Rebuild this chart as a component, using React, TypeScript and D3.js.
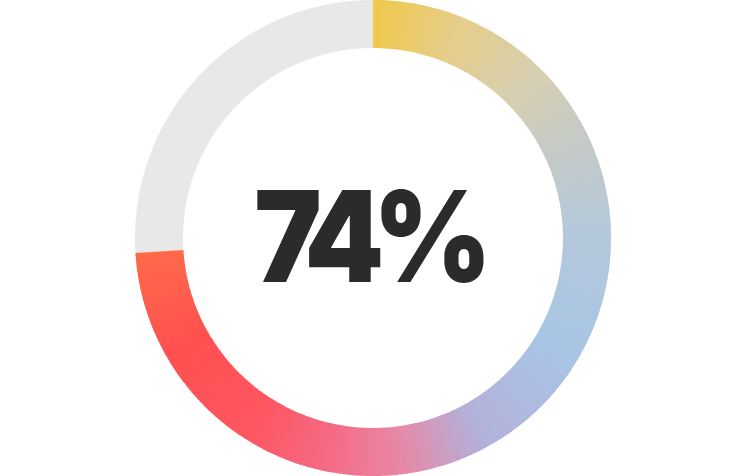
import { useMemo } from "react";
import * as d3 from "d3";

const percent = 74;
const gradientOffsets = [0, 0.08, 0.16, 0.23, 0.33, 0.45, 0.57, 0.65, 0.72, 0.8, 0.9, 1];
const gradientColors = [
  "#f0c94c", "#e6cd88", "#d8cfae", "#c8cbc4", "#b5c8da", "#a8c5e5",
  "#b3b1da", "#e887a6", "#f56a84", "#fe5660", "#ff5050", "#ff6a4a",
];
const trackColor = "#e8e8e8";

const width = 750;
const height = 476;
const cx = 373;
const cy = 238;
const outerRadius = 238;
const innerRadius = 190;
const slices = 360;

export default function App() {
  const arc = useMemo(() => d3.arc<{ a0: number; a1: number }>()
    .innerRadius(innerRadius)
    .outerRadius(outerRadius)
    .startAngle((d) => d.a0)
    .endAngle((d) => d.a1), []);

  const endAngle = (percent / 100) * Math.PI * 2;

  const color = d3.scaleLinear<string>()
    .domain(gradientOffsets)
    .range(gradientColors)
    .interpolate(d3.interpolateRgb);

  const pieces = d3.range(slices).map((i) => {
    const t0 = i / slices;
    const t1 = (i + 1) / slices;
    return {
      a0: t0 * endAngle,
      a1: Math.min(endAngle, t1 * endAngle + 0.004),
      fill: color((t0 + t1) / 2),
    };
  });

  return (
    <svg width={width} height={height} style={{ display: "block", position: "absolute", left: 0, top: 0 }}>
      <rect width={width} height={height} fill="#ffffff" />
      <g transform={`translate(${cx},${cy})`}>
        <path d={arc({ a0: endAngle - 0.002, a1: Math.PI * 2 }) ?? ""} fill={trackColor} />
        {pieces.map((p, i) => (
          <path key={i} d={arc(p) ?? ""} fill={p.fill} />
        ))}
        <g transform="translate(0,44) scale(0.9,1)">
          <text
            x={0}
            y={0}
            textAnchor="middle"
            fontFamily="Inter, 'Noto Sans', sans-serif"
            fontWeight={900}
            fontSize={126}
            letterSpacing={-12}
            fill="#2b2b2b"
          >
            <tspan dx={-6}>{percent}%</tspan>
          </text>
        </g>
      </g>
    </svg>
  );
}
